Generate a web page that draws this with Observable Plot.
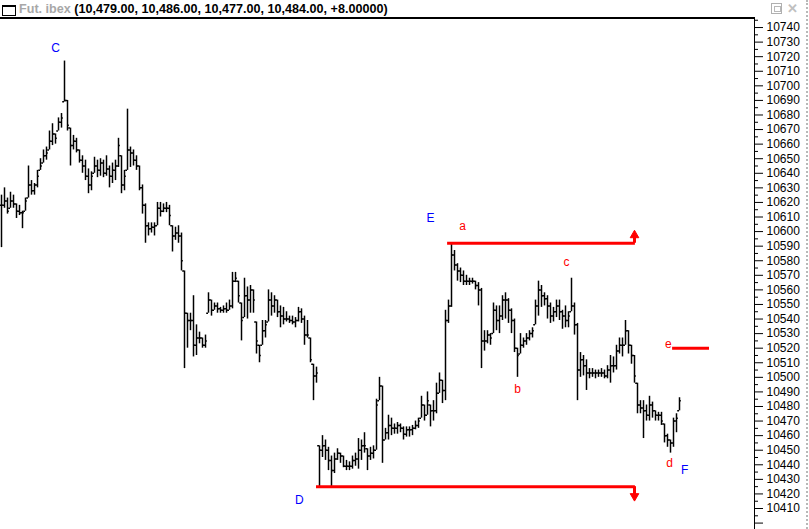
<!DOCTYPE html>
<html><head><meta charset="utf-8">
<script src="https://cdn.jsdelivr.net/npm/d3@7"></script>
<script src="https://cdn.jsdelivr.net/npm/@observablehq/plot@0.6"></script>
<style>
html,body{margin:0;padding:0;background:#fff;}
#wrap{position:relative;width:809px;height:529px;overflow:hidden;font-family:"Liberation Sans",Arial,sans-serif;}
#title{position:absolute;left:19px;top:2px;font-weight:bold;font-size:12.6px;white-space:nowrap;color:#000;}
#title .nm{color:#a8a8a8;}
#icon{position:absolute;left:2px;top:5px;width:12px;height:8px;border:1px solid #000;border-top-width:2px;}
#hline{position:absolute;left:0;top:17px;width:755px;height:2px;background:#000;z-index:2;}
#chart{position:absolute;left:0;top:18px;}
#btn1{position:absolute;left:771px;top:3px;width:9px;height:9px;border:1px solid #b0b0b0;}
#btn1 div{position:absolute;left:2px;top:2px;width:5px;height:4px;border:1px solid #b8b8b8;}
#btn2{position:absolute;left:787px;top:1px;font:bold 13px "Liberation Sans",Arial;color:#c0c0c0;}
#rb{position:absolute;left:806px;top:0;width:0;height:529px;border-left:2px dotted #b8b8b8;}
</style></head>
<body><div id="wrap">
<div id="icon"></div>
<div id="title"><span class="nm">Fut. ibex</span> (10,479.00, 10,486.00, 10,477.00, 10,484.00, +8.00000)</div>
<div id="btn1"><div></div></div><div id="btn2">&#x2715;</div>
<div id="hline"></div>
<div id="chart"></div>
<div id="rb"></div>
</div>
<script>
// OHLC bars (high, low, close) of Fut. ibex
const hi = [10625,10630,10623,10627,10625,10619,10618,10614,10623,10645,
10635,10633,10642,10650,10656,10658,10669,10674,10667,10678,
10681,10717,10690,10671,10666,10664,10656,10652,10649,10643,
10641,10651,10649,10650,10649,10652,10645,10647,10649,10664,
10652,10642,10684,10658,10656,10652,10645,10632,10619,10606,
10606,10606,10620,10620,10619,10620,10618,10604,10603,10604,
10599,10573,10544,10544,10556,10536,10531,10527,10529,10558,
10553,10551,10551,10548,10549,10551,10553,10572,10572,10566,
10551,10568,10562,10563,10560,10538,10522,10539,10539,10560,
10558,10556,10553,10549,10548,10545,10542,10542,10541,10548,
10547,10542,10539,10527,10509,10507,10453,10460,10457,10452,
10446,10448,10451,10448,10446,10443,10442,10446,10448,10458,
10457,10462,10451,10452,10453,10485,10500,10494,10465,10474,
10472,10468,10469,10468,10466,10466,10466,10467,10470,10472,
10487,10481,10490,10481,10484,10496,10503,10498,10546,10553,
10592,10587,10578,10575,10573,10570,10568,10568,10566,10565,
10561,10532,10532,10530,10551,10549,10549,10556,10558,10554,
10547,10540,10520,10530,10527,10530,10532,10534,10553,10566,
10563,10558,10556,10551,10548,10553,10553,10546,10549,10545,
10568,10551,10537,10517,10515,10512,10506,10506,10505,10505,
10506,10505,10508,10515,10514,10522,10527,10527,10539,10532,
10522,10515,10496,10484,10484,10481,10487,10483,10477,10476,
10476,10468,10461,10457,10472,10475,10486];
const lo = [10589,10616,10612,10616,10616,10609,10611,10602,10614,10623,
10625,10625,10630,10642,10647,10649,10656,10659,10660,10669,
10671,10689,10669,10645,10656,10654,10647,10640,10635,10626,
10628,10640,10637,10638,10637,10638,10630,10633,10635,10644,
10626,10628,10642,10644,10645,10642,10628,10612,10592,10597,
10599,10597,10604,10610,10613,10613,10604,10586,10594,10592,
10573,10506,10520,10532,10514,10515,10523,10520,10520,10544,
10542,10546,10544,10544,10544,10544,10546,10547,10565,10551,
10525,10541,10540,10544,10544,10516,10510,10522,10527,10538,
10542,10544,10541,10534,10536,10538,10537,10536,10534,10538,
10537,10522,10527,10510,10484,10496,10424,10445,10443,10436,
10424,10434,10443,10441,10438,10436,10436,10437,10439,10437,
10443,10448,10436,10443,10444,10450,10484,10441,10457,10457,
10460,10461,10461,10462,10457,10459,10459,10460,10464,10465,
10472,10470,10474,10466,10470,10475,10489,10482,10484,10537,
10548,10573,10566,10565,10563,10563,10563,10564,10560,10549,
10506,10518,10523,10522,10530,10532,10530,10539,10540,10537,
10530,10517,10500,10516,10520,10522,10525,10527,10536,10542,
10548,10549,10540,10537,10538,10541,10539,10533,10534,10534,
10545,10529,10484,10500,10501,10491,10499,10500,10499,10500,
10500,10499,10499,10496,10503,10505,10516,10514,10522,10516,
10509,10496,10475,10475,10458,10470,10470,10472,10470,10470,
10467,10455,10452,10448,10452,10462,10477];
const cl = [10618,10621,10614,10621,10619,10614,10613,10613,10621,10632,
10628,10632,10638,10645,10652,10654,10662,10667,10664,10675,
10678,10690,10673,10659,10662,10656,10649,10645,10638,10632,
10638,10645,10642,10647,10640,10643,10638,10642,10645,10659,
10632,10638,10656,10654,10649,10645,10630,10618,10604,10602,
10603,10604,10616,10614,10616,10616,10611,10597,10599,10597,
10580,10544,10539,10539,10522,10527,10527,10522,10525,10553,
10546,10549,10547,10546,10547,10546,10549,10566,10568,10556,
10539,10556,10553,10560,10553,10525,10515,10532,10536,10553,
10549,10553,10545,10542,10540,10540,10539,10538,10539,10545,
10540,10529,10529,10512,10501,10503,10450,10453,10450,10443,
10436,10444,10448,10446,10439,10439,10439,10443,10444,10450,
10453,10453,10446,10448,10450,10481,10494,10457,10462,10467,
10465,10465,10467,10465,10461,10464,10464,10465,10467,10470,
10481,10474,10484,10477,10477,10489,10498,10491,10539,10549,
10584,10577,10573,10570,10566,10566,10566,10566,10563,10560,
10525,10525,10529,10527,10546,10539,10542,10553,10553,10546,
10539,10520,10515,10522,10525,10527,10530,10532,10549,10560,
10556,10554,10549,10542,10545,10549,10545,10542,10539,10542,
10549,10536,10505,10512,10508,10503,10503,10503,10503,10503,
10503,10501,10505,10508,10508,10518,10522,10522,10532,10522,
10515,10501,10481,10479,10477,10474,10481,10477,10474,10474,
10470,10460,10457,10455,10470,10472,10484];

// axis ticks
const majorTicks = d3.range(10400, 10741, 10);
const minorTicks = d3.range(10405, 10746, 10);

// horizontal red levels: [y, x1 (bar), x2 (bar)]
const levelY  = [10592, 10425, 10520];
const levelX1 = [148.7, 105, 223.7];
const levelX2 = [211.3, 211.3, 236];

// arrows at the right end of the channel
const arrowX = [211, 211];
const arrowBase = [10592, 10425];
const arrowTip = [10597.5, 10418.5];
const arrowRot = [0, 180];

// wave labels
const lblText  = ["C", "D", "E", "F", "a", "b", "c", "d", "e"];
const lblX     = [18, 99.3, 143, 227.7, 153.7, 172, 188.3, 222.7, 222.3];
const lblY     = [10726, 10415.5, 10609, 10436, 10604, 10492, 10579, 10441, 10522.5];
const lblColor = ["#0000ff","#0000ff","#0000ff","#0000ff","#ff0000","#ff0000","#ff0000","#ff0000","#ff0000"];

const bars = hi.map((h, i) => {
  const prev = i > 0 ? cl[i - 1] : cl[i];
  return {i, hi: h, lo: lo[i], cl: cl[i], op: Math.max(lo[i], Math.min(h, prev))};
});
const levels = levelY.map((y, k) => ({y, x1: levelX1[k], x2: levelX2[k]}));
const arrows = arrowX.map((x, k) => ({x, y1: arrowBase[k], y2: arrowTip[k], rot: arrowRot[k]}));
const labels = lblText.map((t, k) => ({t, x: lblX[k], y: lblY[k], c: lblColor[k]}));

const red = "#ff0000";
const chart = Plot.plot({
  width: 809,
  height: 511,
  marginLeft: 1,
  marginRight: 55,
  marginTop: 0,
  marginBottom: 0,
  x: {domain: [0, 251], axis: null},
  y: {domain: [10395.6, 10746.2], axis: null},
  style: {fontFamily: "'Liberation Sans', Arial, sans-serif", fontSize: "12px", background: "transparent", overflow: "visible"},
  marks: [
    Plot.ruleX(bars, {x: "i", y1: "lo", y2: "hi", stroke: "#000", strokeWidth: 1.5}),
    Plot.ruleY(bars, {x1: d => d.i - 0.6, x2: "i", y: "op", stroke: "#000", strokeWidth: 1.5}),
    Plot.ruleY(bars, {x1: "i", x2: d => d.i + 0.6, y: "cl", stroke: "#000", strokeWidth: 1.5}),
    Plot.ruleY(levels, {y: "y", x1: "x1", x2: "x2", stroke: red, strokeWidth: 3}),
    Plot.ruleX(arrows, {x: "x", y1: "y1", y2: "y2", stroke: red, strokeWidth: 3}),
    Plot.dot(arrows, {x: "x", y: "y2", symbol: "triangle", r: 3.2, fill: red, stroke: red, strokeWidth: 1, rotate: "rot"}),
    Plot.text(labels, {x: "x", y: "y", text: "t", fill: "c", fontSize: 12}),
    Plot.ruleX([251], {stroke: "#000", strokeWidth: 1, shapeRendering: "crispEdges"}),
    Plot.axisY({ticks: minorTicks, anchor: "right", tickSize: 3, tickFormat: () => "", stroke: "#000"}),
    Plot.axisY({ticks: majorTicks, anchor: "right", tickSize: 8, tickPadding: 4, fontSize: 12, fill: "#000",
      tickFormat: d => d === 10400 ? "" : String(d), label: null})
  ]
});
document.getElementById("chart").appendChild(chart);
</script>
</body></html>
